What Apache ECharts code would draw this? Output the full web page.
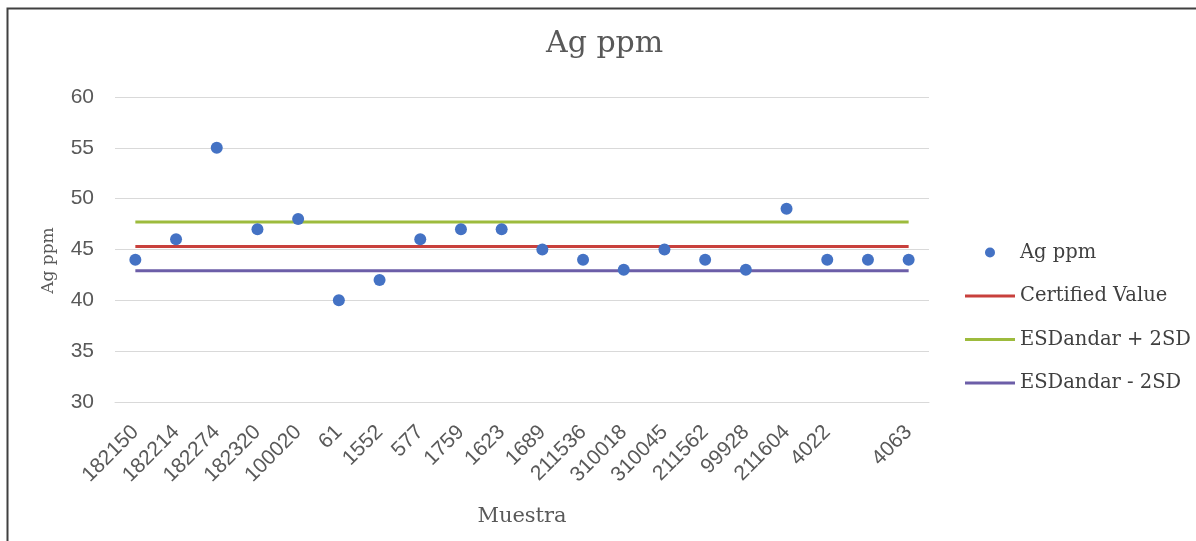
<!DOCTYPE html>
<html>
<head>
<meta charset="utf-8">
<script src="https://cdn.jsdelivr.net/npm/echarts@6/dist/echarts.min.js"></script>
<style>
html,body{margin:0;padding:0;background:#fff;}
#chart{width:1196px;height:541px;}
</style>
</head>
<body>
<div id="chart"></div>
<script>
const categories = ['182150','182214','182274','182320','100020','61','1552','577','1759','1623','1689','211536','310018','310045','211562','99928','211604','4022','','4063'];
const agPpm = [44,46,55,47,48,40,42,46,47,47,45,44,43,45,44,43,49,44,44,44];
const certifiedValue = [45.3,45.3,45.3,45.3,45.3,45.3,45.3,45.3,45.3,45.3,45.3,45.3,45.3,45.3,45.3,45.3,45.3,45.3,45.3,45.3];
const upper2SD = [47.7,47.7,47.7,47.7,47.7,47.7,47.7,47.7,47.7,47.7,47.7,47.7,47.7,47.7,47.7,47.7,47.7,47.7,47.7,47.7];
const lower2SD = [42.9,42.9,42.9,42.9,42.9,42.9,42.9,42.9,42.9,42.9,42.9,42.9,42.9,42.9,42.9,42.9,42.9,42.9,42.9,42.9];
const yTicks = {min:30, max:60, interval:5};

const serif = '"DejaVu Serif", "Liberation Serif", serif';
const sans = '"Liberation Sans", "DejaVu Sans", sans-serif';
const lineIcon = 'path://M0,0H50V3H0Z';

const chart = echarts.init(document.getElementById('chart'), null, {renderer:'canvas'});
chart.setOption({
  animation:false,
  backgroundColor:'#ffffff',
  graphic:[{
    type:'rect', left:5, top:6,
    shape:{width:1300, height:700},
    style:{fill:'none', stroke:'#404040', lineWidth:2}, silent:true
  }],
  title:{
    text:'Ag ppm', left:541, top:24,
    textStyle:{fontFamily:serif, fontSize:30, fontWeight:'normal', color:'#595959'}
  },
  legend:{
    orient:'vertical', left:960, top:237.5, itemGap:23.5,
    itemWidth:50, itemHeight:10,
    textStyle:{fontFamily:serif, fontSize:19.5, color:'#404040'},
    data:[
      {name:'Ag ppm', icon:'circle'},
      {name:'Certified Value', icon:lineIcon},
      {name:'ESDandar + 2SD', icon:lineIcon},
      {name:'ESDandar - 2SD', icon:lineIcon}
    ]
  },
  grid:{left:115, right:267, top:97, bottom:139},
  xAxis:{
    type:'category', data:categories, boundaryGap:true,
    name:'Muestra', nameLocation:'middle', nameGap:104,
    nameTextStyle:{fontFamily:serif, fontSize:21, color:'#595959'},
    axisLine:{show:true, lineStyle:{color:'#d9d9d9', width:1}},
    axisTick:{show:false},
    axisLabel:{interval:0, rotate:45, margin:27, fontFamily:sans, fontSize:21, color:'#595959'}
  },
  yAxis:{
    type:'value', min:yTicks.min, max:yTicks.max, interval:yTicks.interval,
    name:'Ag ppm', nameLocation:'middle', nameGap:58,
    nameTextStyle:{fontFamily:serif, fontSize:17, color:'#595959', padding:[0,22,0,0]},
    axisLine:{show:false}, axisTick:{show:false},
    axisLabel:{margin:21, fontFamily:sans, fontSize:21, color:'#595959'},
    splitLine:{lineStyle:{color:'#d9d9d9', width:1}}
  },
  series:[
    {name:'Ag ppm', type:'scatter', data:agPpm, symbol:'circle', symbolSize:12, z:5,
     itemStyle:{color:'#4472c4', opacity:1}},
    {name:'Certified Value', type:'line', data:certifiedValue, symbol:'none', z:2,
     lineStyle:{color:'#c8403c', width:3}, itemStyle:{color:'#c8403c'}},
    {name:'ESDandar + 2SD', type:'line', data:upper2SD, symbol:'none', z:2,
     lineStyle:{color:'#9dbb3d', width:3}, itemStyle:{color:'#9dbb3d'}},
    {name:'ESDandar - 2SD', type:'line', data:lower2SD, symbol:'none', z:2,
     lineStyle:{color:'#6c5ea8', width:3}, itemStyle:{color:'#6c5ea8'}}
  ]
});
</script>
</body>
</html>
